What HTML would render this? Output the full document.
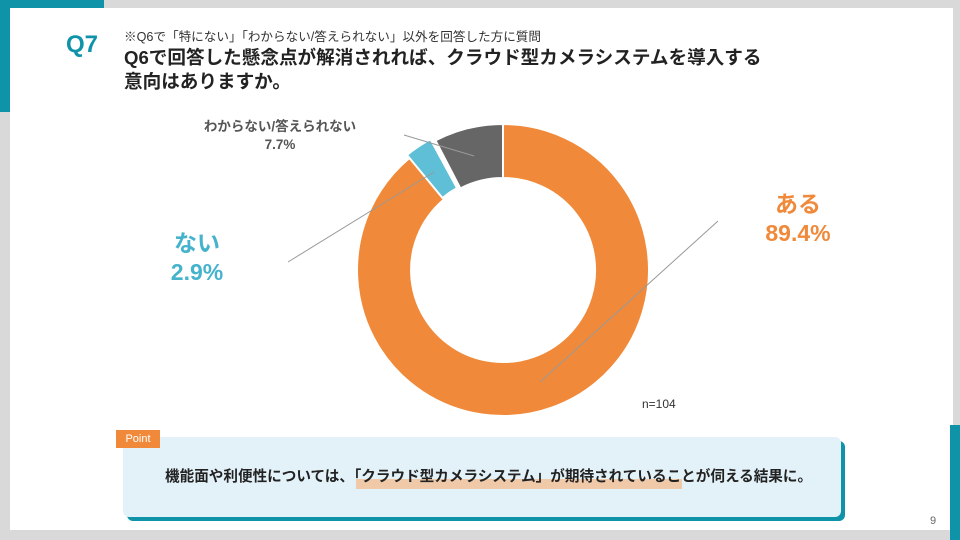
<!DOCTYPE html>
<html><head><meta charset="utf-8"><style>
body{margin:0;width:960px;height:540px;background:#d9d9d9;position:relative;overflow:hidden;font-family:"Liberation Sans","Noto Sans CJK JP",sans-serif}
.abs{position:absolute}
</style></head><body>
<div class="abs" style="left:0;top:0;width:104px;height:8px;background:#0e93a8"></div>
<div class="abs" style="left:0;top:0;width:10px;height:112px;background:#0e93a8"></div>
<div class="abs" style="left:10px;top:8px;width:943px;height:522px;background:#fff"></div>
<div class="abs" style="left:950px;top:425px;width:10px;height:115px;background:#0e93a8"></div>
<div class="abs" style="left:66px;top:31px;font-size:24px;font-weight:bold;color:#0e93a8">Q7</div>
<div class="abs" style="left:124px;top:26px;font-size:12.6px;color:#333">※Q6で「特にない」「わからない/答えられない」以外を回答した方に質問</div>
<div class="abs" style="left:124px;top:46px;font-size:18.6px;font-weight:bold;color:#222;line-height:24px">Q6で回答した懸念点が解消されれば、クラウド型カメラシステムを導入する<br>意向はありますか。</div>
<svg class="abs" style="left:0;top:0" width="960" height="540">
<g transform="translate(503,270)">
<path d="M0,-146 A146,146 0 1 1 -93.4,-112.2 L-58.8,-70.7 A92,92 0 1 0 0,-92 Z" fill="#f08a3a" stroke="#fff" stroke-width="2"/>
<path d="M-96,-115 A149,149 0 0 1 -72.5,-130.7 L-46,-82 A94,94 0 0 0 -60.5,-72 Z" fill="#5ebfd6" stroke="#fff" stroke-width="2"/>
<path d="M-67.5,-129.6 A146,146 0 0 1 0,-146 L0,-92 A92,92 0 0 0 -42.6,-81.6 Z" fill="#666" stroke="#fff" stroke-width="2"/>
</g>
<line x1="540" y1="382" x2="718" y2="221" stroke="#999" stroke-width="1"/>
<line x1="288" y1="262" x2="434" y2="172" stroke="#999" stroke-width="1"/>
<line x1="404" y1="135" x2="474" y2="156" stroke="#999" stroke-width="1"/>
</svg>
<div class="abs" style="left:190px;top:118px;width:180px;text-align:center;font-size:13.5px;font-weight:bold;color:#555;line-height:18px">わからない/答えられない<br>7.7%</div>
<div class="abs" style="left:162px;top:229px;width:70px;font-size:23px;font-weight:bold;color:#45b3cc;line-height:29px;text-align:center">ない<br>2.9%</div>
<div class="abs" style="left:756px;top:190px;width:84px;font-size:23px;font-weight:bold;color:#f08a3a;line-height:29px;text-align:center">ある<br>89.4%</div>
<div class="abs" style="left:642px;top:397px;font-size:12px;color:#333">n=104</div>
<div class="abs" style="left:127px;top:441px;width:718px;height:80px;background:#0e93a8;border-radius:6px"></div>
<div class="abs" style="left:123px;top:437px;width:718px;height:80px;background:#e3f2f8;border-radius:6px"></div>
<div class="abs" style="left:116px;top:430px;width:44px;height:18px;background:#f08a3a;color:#fff;font-size:11px;line-height:18px;text-align:center">Point</div>
<div class="abs" style="left:356px;top:479px;width:326px;height:10px;background:#efc9a8"></div>
<div class="abs" style="left:165px;top:465px;font-size:14.6px;font-weight:bold;color:#222">機能面や利便性については、「クラウド型カメラシステム」が期待されていることが伺える結果に。</div>
<div class="abs" style="left:930px;top:515px;font-size:11px;color:#666">9</div>
</body></html>
